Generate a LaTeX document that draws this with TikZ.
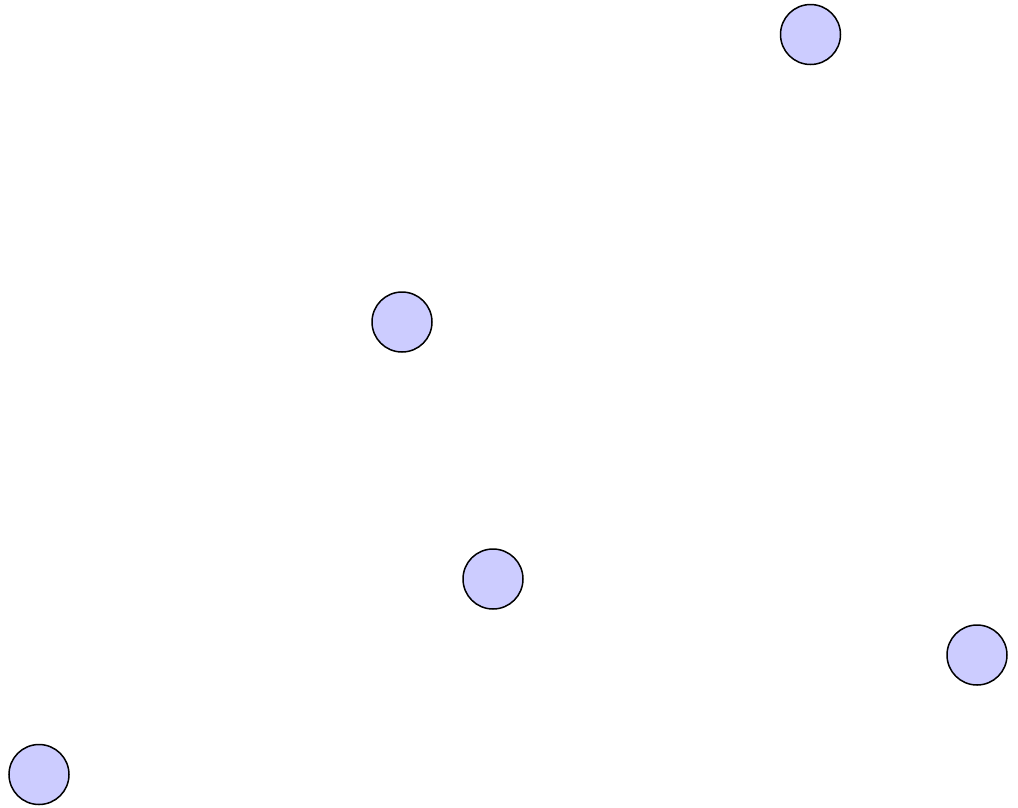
\documentclass[tikz,border=0pt]{standalone}
\definecolor{nodefill}{HTML}{CCCCFF}
\begin{document}
\begin{tikzpicture}[x=1pt,y=-1pt,
  dot/.style={circle,draw=black,fill=nodefill,line width=1.5pt,minimum size=60pt,inner sep=0pt}]
\useasboundingbox (0,0) rectangle (1018,807);
\node[dot] (a) at (810.5,34.5) {};
\node[dot] (b) at (402,322) {};
\node[dot] (c) at (493,579) {};
\node[dot] (d) at (977,655) {};
\node[dot] (e) at (39,774.5) {};
\end{tikzpicture}
\end{document}
